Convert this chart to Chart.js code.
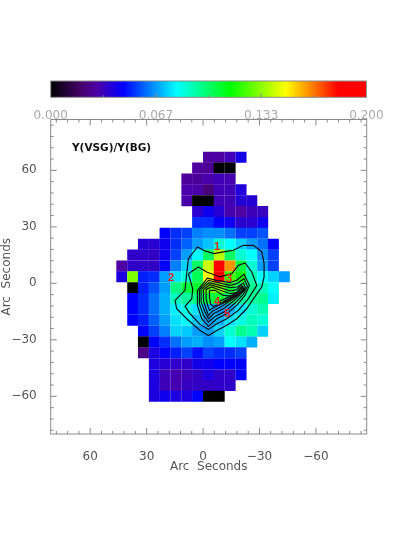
<!DOCTYPE html>
<html>
<head>
<meta charset="utf-8">
<title>Y(VSG)/Y(BG)</title>
<script src="https://cdn.jsdelivr.net/npm/chart.js@4"></script>
<style>
    body { margin: 0; background: #fff; }
    canvas { position: absolute; left: 0; top: 0; }
</style>
</head>
<body>
<canvas id="mapa" width="407" height="540"></canvas>
<canvas id="barra" width="407" height="119"></canvas>
<script>
const _ = null;

// arc seconds at the centre of each column / row of the map
const xCells = [43.2, 37.4, 31.7, 25.9, 20.2, 14.4, 8.6, 2.9, -2.9, -8.6, -14.4, -20.2, -25.9, -31.7, -37.4, -43.2];
const yCells = [67.0, 61.2, 55.4, 49.7, 43.9, 38.1, 32.3, 26.6, 20.8, 15.0, 9.2, 3.5, -2.3, -8.1, -13.8, -19.6, -25.4, -31.2, -36.9, -42.7, -48.5, -54.3, -60.0];

const cellValues = [
    [_, _, _, _, _, _, _, _, .028, .029, .032, .041, _, _, _, _],
    [_, _, _, _, _, _, _, .028, .026, 0, 0, _, _, _, _, _],
    [_, _, _, _, _, _, .027, .027, .030, .032, .031, _, _, _, _, _],
    [_, _, _, _, _, _, .030, .030, .022, .032, .032, .039, _, _, _, _],
    [_, _, _, _, _, _, .030, 0, 0, .032, .032, .038, .038, _, _, _],
    [_, _, _, _, _, _, _, .037, .043, .038, .031, .029, .033, .034, _, _],
    [_, _, _, _, _, _, _, .052, .052, .046, .043, .037, .037, .043, _, _],
    [_, _, _, _, .046, .052, .0545, .063, .065, .065, .061, .0545, .0545, .057, _, _],
    [_, _, .038, .037, .043, .052, .059, .067, .072, .086, .080, .074, .067, .061, .046, _],
    [_, .036, .036, .035, .043, .0545, .067, .080, .101, .139, .101, .086, .080, .065, .0545, _],
    [.029, .036, .036, .035, .046, .063, .074, .101, .142, .185, .163, .1055, .086, .067, .0545, _],
    [.040, .1315, .050, .052, .067, .076, .084, .103, .149, .185, .123, .114, .0905, .080, .074, .067],
    [_, 0, .050, .057, .067, .097, .1055, .1075, .127, .1315, .1075, .101, .095, .0885, .080, _],
    [_, .046, .052, .061, .0695, .0885, .093, .097, .1055, .1075, .101, .093, .093, .095, .078, _],
    [_, .046, .052, .061, .0695, .078, .084, .076, .0695, .067, .0695, .076, .086, .0905, _, _],
    [_, .046, .050, .059, .067, .076, .080, .072, .067, .0695, .076, .084, .0885, .086, _, _],
    [_, _, .046, .0545, .063, .074, .073, .067, .067, .074, .086, .095, .0905, .074, _, _],
    [_, _, 0, .046, .052, .061, .067, .0695, .065, .067, .080, .076, .0695, _, _, _],
    [_, _, .024, .040, .046, .050, .0545, .048, .0545, .052, .052, .0545, _, _, _, _],
    [_, _, _, .040, .038, .036, .036, .042, .043, .046, .046, .046, _, _, _, _],
    [_, _, _, .040, .033, .031, .033, .035, .040, .036, .036, .046, _, _, _, _],
    [_, _, _, .040, .033, .031, .0345, .035, .035, .036, .036, _, _, _, _, _],
    [_, _, _, .040, .043, .040, .040, .046, 0, 0, _, _, _, _, _, _]
];

// contour lines, [x, y] in arc seconds, outermost first
const contour1 = [[3.0, 19.3], [-1.1, 17.2], [-5.85, 15.8], [-10.8, 16.7], [-16.1, 17.55], [-21.45, 20.2], [-26.8, 20.2], [-31.2, 16.7], [-32.45, 10.5], [-32.45, 3.4], [-31.2, -1.95], [-26.8, -8.15], [-23.2, -13.5], [-17.9, -18.8], [-12.6, -22.3], [-7.3, -25], [-2.85, -27.7], [1.6, -25], [8.7, -18.8], [14, -13.5], [14.9, -9.05], [9.6, -3.7], [8.7, 5.1], [7.8, 13.1]];
const contour2 = [[7.8, 5.1], [2.5, 8.7], [-1.95, 6.05], [-9.05, 3.4], [-15.25, 5.15], [-18.8, 9.55], [-22.35, 10.8], [-25.9, 6.05], [-28.55, -1.05], [-24.1, -8.15], [-18.8, -14.35], [-12.6, -18.8], [-7.3, -21.45], [-2.85, -24.45], [1.6, -21.8], [6.9, -16.15], [9.6, -12.25], [6.0, -8.15], [5.5, -2.85]];
const contour3 = [[3.0, -3.7], [-2.3, 2.8], [-7.3, 1.6], [-14.4, 0.35], [-17.9, 1.6], [-21.8, 4.8], [-24.65, -1.05], [-22.35, -6.4], [-17.9, -11.7], [-12.6, -16.1], [-7.3, -18.8], [-2.85, -22.9], [0.7, -18.8], [3.0, -11.7]];
const contour4 = [[1.95, -3.35], [-2.85, 1.6], [-8.15, 0.35], [-14.4, -1.05], [-17.9, -0.15], [-21.8, 2.5], [-23.6, -1.6], [-21.45, -5.85], [-17.0, -10.45], [-11.7, -14.9], [-6.4, -17.55], [-2.85, -20.55], [-0.2, -17.0], [1.95, -10.8]];
const contour5 = [[1.05, -3.35], [-3.2, 0.35], [-9.05, -1.05], [-14.4, -2.3], [-18.25, -1.95], [-21.45, 0.2], [-22.5, -2.3], [-20.05, -5.85], [-16.15, -9.4], [-10.8, -13.5], [-5.5, -16.15], [-2.85, -18.8], [-1.05, -15.25], [1.05, -9.9]];
const contour6 = [[-0.2, -3.35], [-3.7, -0.7], [-9.05, -2.3], [-14.4, -4.05], [-17.9, -3.35], [-20.05, -1.05], [-21.8, -2.85], [-19.3, -5.85], [-15.25, -8.7], [-9.9, -12.25], [-5.15, -14.7], [-2.85, -17.0], [-1.6, -13.5], [-0.2, -9.05]];
const contour7 = [[-1.6, -3.35], [-4.6, -1.95], [-9.05, -3.7], [-14.4, -5.5], [-18.25, -4.8], [-20.4, -2.3], [-20.75, -3.7], [-18.25, -6.4], [-14.4, -8.0], [-9.9, -10.8], [-5.5, -12.95], [-3.4, -14.35], [-2.3, -11.15], [-1.6, -8.15]];
const contour8 = [[-3.4, -3.7], [-6.4, -3.7], [-10.8, -6.4], [-15.25, -6.75], [-18.8, -5.15], [-20.05, -4.6], [-17.0, -6.9], [-13.45, -8.7], [-9.05, -11.15], [-5.5, -12.25], [-4.05, -11.15], [-3.4, -7.3]];
const contour9 = [[-9.05, -9.4], [-13.45, -7.3], [-17.55, -5.15], [-18.95, -3.7], [-19.3, -4.8], [-16.15, -7.3], [-12.6, -9.75], [-9.55, -10.8]];
const contour10 = [[-10.45, -9.75], [-14.0, -8.0], [-17.9, -5.5], [-15.25, -7.6], [-12.2, -9.9]];
const contour11 = [[-19.3, -2.85], [-21.1, -1.6], [-22.35, -3.35], [-21.1, -4.8], [-19.7, -4.4]];
const contour12 = [[-20.05, -3.0], [-21.1, -2.3], [-21.6, -3.35], [-20.75, -4.05]];
const contours = [contour1, contour2, contour3, contour4, contour5, contour6, contour7, contour8, contour9, contour10, contour11, contour12];

// numbered regions
const regionLabels = ['1', '2', '3', '4', '5'];
const regionX = [-7.45, 17, -13.8, -7.45, -12.8];
const regionY = [19.15, 2.65, 2.1, -10.1, -16.5];

// axes
const axisTicks = [60, 30, 0, -30, -60];
const axisMinorTicks = [84, 78, 72, 66, 54, 48, 42, 36, 24, 18, 12, 6, -6, -12, -18, -24, -36, -42, -48, -54, -66, -72, -78, -84];

// colour table
const cmapValues = [0, .019, .029, .046, .080, .114, .149, .182, .2];
const cmapColors = [[0, 0, 0], [70, 0, 105], [78, 0, 165], [0, 0, 255], [0, 255, 255], [0, 255, 0], [255, 255, 0], [255, 0, 0], [255, 0, 0]];
const barTicks = [0, .2 / 3, .4 / 3, .2];
const barMinorTicks = [.2 / 6, .1, .5 / 3];

const GRAY = '#8a8a8a';

function corDoValor(v) {
    let i = 0;
    while (i < cmapValues.length - 2 && v > cmapValues[i + 1]) i++;
    const t = Math.min(1, (v - cmapValues[i]) / (cmapValues[i + 1] - cmapValues[i]));
    const c = cmapColors[i].map((a, k) => Math.round(a + (cmapColors[i + 1][k] - a) * t));
    return `rgb(${c[0]},${c[1]},${c[2]})`;
}

const heatPoints = [];
const heatColors = [];
cellValues.forEach((row, r) => {
    row.forEach((v, c) => {
        if (v === null) return;
        heatPoints.push({ x: xCells[c], y: yCells[r] });
        heatColors.push(corDoValor(v));
    });
});

function menos(v) {
    return v < 0 ? '\u2212' + Math.abs(v) : String(v);
}

function risco(ctx, x1, y1, x2, y2) {
    ctx.beginPath();
    ctx.moveTo(x1, y1);
    ctx.lineTo(x2, y2);
    ctx.stroke();
}

const tiquesMapa = {
    id: 'tiquesMapa',
    afterDraw(chart) {
        const { ctx, chartArea: a, scales } = chart;
        ctx.save();
        ctx.strokeStyle = GRAY;
        ctx.lineWidth = 1;
        ctx.strokeRect(a.left, a.top, a.right - a.left, a.bottom - a.top);
        const desenha = (lista, tam) => {
            lista.forEach(v => {
                const x = scales.x.getPixelForValue(v);
                if (x > a.left && x < a.right) {
                    risco(ctx, x, a.top, x, a.top + tam);
                    risco(ctx, x, a.bottom, x, a.bottom - tam);
                }
                const y = scales.y.getPixelForValue(v);
                if (y > a.top && y < a.bottom) {
                    risco(ctx, a.left, y, a.left + tam, y);
                    risco(ctx, a.right, y, a.right - tam, y);
                }
            });
        };
        desenha(axisTicks, 6);
        desenha(axisMinorTicks, 3);
        ctx.fillStyle = '#ee1c25';
        ctx.font = 'bold 11px "Liberation Sans"';
        ctx.textAlign = 'center';
        ctx.textBaseline = 'middle';
        regionLabels.forEach((t, i) => {
            ctx.fillText(t, scales.x.getPixelForValue(regionX[i]), scales.y.getPixelForValue(regionY[i]));
        });
        ctx.fillStyle = '#111';
        ctx.font = 'bold 10.5px "DejaVu Sans"';
        ctx.textAlign = 'left';
        ctx.fillText('Y(VSG)/Y(BG)', 72, 148);
        ctx.restore();
    }
};

const datasets = [{
    data: heatPoints,
    pointStyle: 'rect',
    pointRadius: 7.75,
    pointBorderWidth: 0,
    pointBackgroundColor: heatColors,
    showLine: false,
    order: 2
}];
contours.forEach(pts => {
    const linha = pts.concat([pts[0]]).map(p => ({ x: p[0], y: p[1] }));
    datasets.push({
        data: linha,
        showLine: true,
        borderColor: '#111',
        borderWidth: 1.2,
        pointRadius: 0,
        order: 1
    });
});

new Chart(document.getElementById('mapa'), {
    type: 'scatter',
    data: { datasets },
    options: {
        responsive: false,
        animation: false,
        layout: { padding: { top: 119.5, right: 40.3 } },
        plugins: { legend: { display: false }, tooltip: { enabled: false } },
        scales: {
            x: {
                min: -87,
                max: 81,
                reverse: true,
                grid: { display: false },
                border: { display: false },
                afterFit: s => { s.height = 106; },
                afterBuildTicks: s => { s.ticks = axisTicks.map(v => ({ value: v })); },
                ticks: {
                    autoSkip: false,
                    maxRotation: 0,
                    padding: 8,
                    color: '#555',
                    font: { family: 'DejaVu Sans', size: 12 },
                    callback: menos
                },
                title: {
                    display: true,
                    text: 'Arc  Seconds',
                    color: '#555',
                    font: { family: 'DejaVu Sans', size: 12 },
                    padding: { top: 0, bottom: 66 }
                }
            },
            y: {
                min: -80,
                max: 87,
                grid: { display: false },
                border: { display: false },
                afterFit: s => { s.width = 50.7; },
                afterBuildTicks: s => { s.ticks = axisTicks.map(v => ({ value: v })); },
                ticks: {
                    autoSkip: false,
                    padding: 6,
                    color: '#555',
                    font: { family: 'DejaVu Sans', size: 12 },
                    callback: menos
                },
                title: {
                    display: true,
                    text: 'Arc  Seconds',
                    color: '#555',
                    font: { family: 'DejaVu Sans', size: 12 },
                    padding: { top: 0, bottom: 0 }
                }
            }
        }
    },
    plugins: [tiquesMapa]
});

const tiquesBarra = {
    id: 'tiquesBarra',
    afterDraw(chart) {
        const { ctx, chartArea: a, scales } = chart;
        ctx.save();
        ctx.strokeStyle = GRAY;
        ctx.lineWidth = 1;
        ctx.strokeRect(a.left, a.top, a.right - a.left, a.bottom - a.top);
        barTicks.slice(1, 3).forEach(v => {
            const x = scales.x.getPixelForValue(v);
            risco(ctx, x, a.bottom, x, a.bottom - 4);
        });
        barMinorTicks.forEach(v => {
            const x = scales.x.getPixelForValue(v);
            risco(ctx, x, a.bottom, x, a.bottom - 2);
        });
        ctx.restore();
    }
};

function gradienteBarra(context) {
    const { ctx, chartArea: a } = context.chart;
    if (!a) return '#000';
    const g = ctx.createLinearGradient(a.left, 0, a.right, 0);
    cmapValues.forEach((v, i) => {
        const c = cmapColors[i];
        g.addColorStop(v / .2, `rgb(${c[0]},${c[1]},${c[2]})`);
    });
    return g;
}

new Chart(document.getElementById('barra'), {
    type: 'bar',
    data: {
        labels: [''],
        datasets: [{
            data: [[0, .2]],
            backgroundColor: gradienteBarra,
            barPercentage: 1,
            categoryPercentage: 1
        }]
    },
    options: {
        indexAxis: 'y',
        responsive: false,
        animation: false,
        layout: { padding: { top: 81, right: 40.6 } },
        plugins: { legend: { display: false }, tooltip: { enabled: false } },
        scales: {
            x: {
                min: 0,
                max: .2,
                grid: { display: false },
                border: { display: false },
                afterFit: s => { s.height = 21.7; },
                afterBuildTicks: s => { s.ticks = barTicks.map(v => ({ value: v })); },
                ticks: {
                    autoSkip: false,
                    maxRotation: 0,
                    padding: 3,
                    color: '#aaa',
                    font: { family: 'DejaVu Sans', size: 12 },
                    callback: v => v.toFixed(3)
                }
            },
            y: {
                grid: { display: false },
                border: { display: false },
                ticks: { display: false },
                afterFit: s => { s.width = 50.7; }
            }
        }
    },
    plugins: [tiquesBarra]
});
</script>
</body>
</html>
